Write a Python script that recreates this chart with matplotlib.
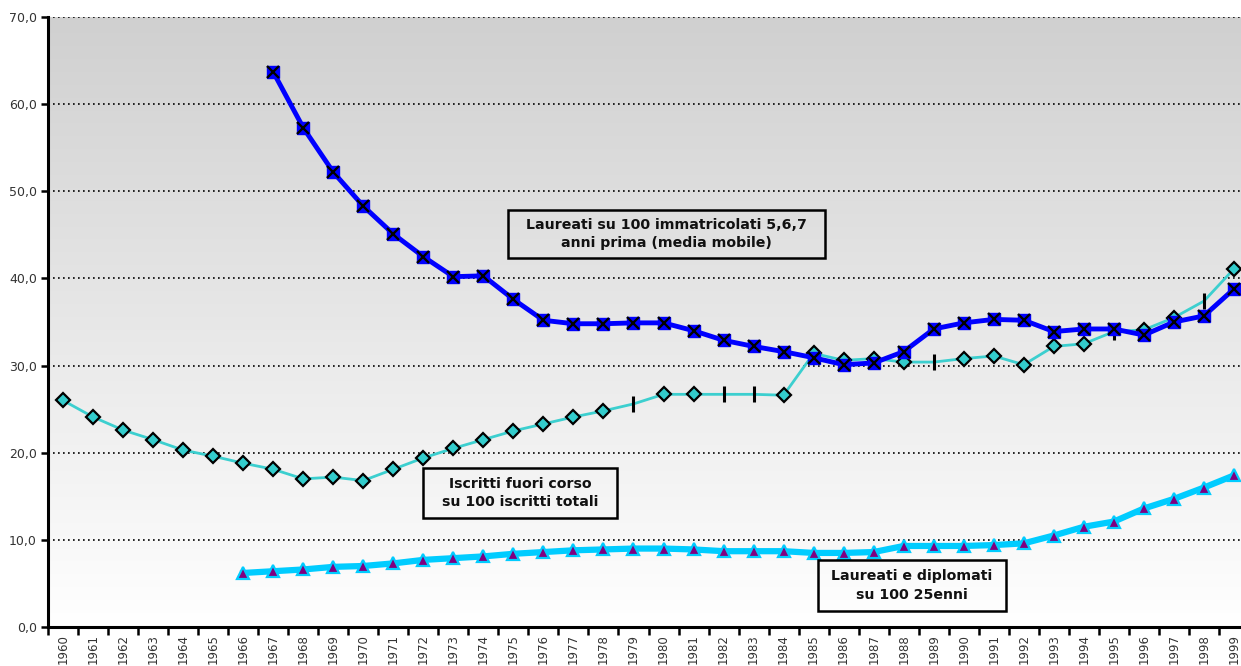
import numpy as np
import matplotlib
matplotlib.use("Agg")
import matplotlib.pyplot as plt
from matplotlib.patches import Rectangle
from matplotlib.ticker import FuncFormatter

# ---- data -------------------------------------------------------------
years = list(range(1960, 2000))

# Laureati su 100 immatricolati 5,6,7 anni prima (media mobile), 1967-1999
laureati_years = list(range(1967, 2000))
laureati_immatricolati = [
    63.7, 57.3, 52.2, 48.3, 45.1, 42.5, 40.2, 40.3, 37.6, 35.2,
    34.8, 34.8, 34.9, 34.9, 34.0, 32.9, 32.2, 31.6, 30.9, 30.1,
    30.3, 31.6, 34.2, 34.9, 35.3, 35.2, 33.9, 34.2, 34.2, 33.5,
    35.0, 35.7, 38.8,
]

# Iscritti fuori corso su 100 iscritti totali, 1960-1999
fuori_corso = [
    26.0, 24.1, 22.6, 21.5, 20.3, 19.6, 18.8, 18.1, 17.0, 17.2,
    16.8, 18.1, 19.4, 20.5, 21.5, 22.5, 23.3, 24.1, 24.8, 25.6,
    26.7, 26.7, 26.7, 26.7, 26.6, 31.4, 30.6, 30.8, 30.4, 30.4,
    30.8, 31.1, 30.1, 32.2, 32.5, 33.9, 34.1, 35.5, 37.4, 41.1,
]
# years whose value is shown with a bar marker instead of a diamond
fuori_corso_bar_years = [1979, 1982, 1983, 1989, 1995, 1998]

# Laureati e diplomati su 100 25enni, 1966-1999
diplomati_years = list(range(1966, 2000))
laureati_25enni = [
    6.2, 6.4, 6.6, 6.9, 7.0, 7.3, 7.7, 7.9, 8.1, 8.4,
    8.6, 8.8, 8.9, 9.0, 9.0, 8.9, 8.7, 8.7, 8.7, 8.5,
    8.5, 8.6, 9.3, 9.3, 9.3, 9.4, 9.6, 10.5, 11.5, 12.1,
    13.6, 14.7, 16.0, 17.4,
]

y_ticks = [0, 10, 20, 30, 40, 50, 60, 70]

label_immatricolati = "Laureati su 100 immatricolati 5,6,7\nanni prima (media mobile)"
label_fuori_corso = "Iscritti fuori corso\nsu 100 iscritti totali"
label_25enni = "Laureati e diplomati\nsu 100 25enni"

# ---- figure -------------------------------------------------------------
W, H = 1241, 666
fig = plt.figure(figsize=(W / 100, H / 100), dpi=100)
fig.patch.set_facecolor("white")

left_px, right_px, top_px, bottom_px = 48, 1249, 17, 627
ax = fig.add_axes([left_px / W, (H - bottom_px) / H,
                   (right_px - left_px) / W, (bottom_px - top_px) / H])

x_pos = {y: i for i, y in enumerate(years)}

# vertical grey-to-white gradient background
grad = np.linspace(0.815, 1.0, 256).reshape(-1, 1)
ax.imshow(np.dstack([grad, grad, grad]), extent=[0, 1, 0, 1],
          transform=ax.transAxes, aspect="auto", zorder=0,
          origin="upper", interpolation="bicubic")

ax.set_xlim(-0.5, len(years) - 0.5)
ax.set_ylim(0, 70)

# dotted horizontal grid
for v in y_ticks[1:]:
    ax.axhline(v, color="black", lw=1.2, ls=(0, (1, 2)), zorder=1)

# Iscritti fuori corso
xf = [x_pos[y] for y in years]
ax.plot(xf, fuori_corso, color="#3CCFCF", lw=2, zorder=3)
diamond_idx = [i for i, y in enumerate(years) if y not in fuori_corso_bar_years]
bar_idx = [i for i, y in enumerate(years) if y in fuori_corso_bar_years]
ax.plot([xf[i] for i in diamond_idx], [fuori_corso[i] for i in diamond_idx],
        ls="none", marker="D", ms=7, mfc="#33CCCC", mec="black", mew=1.6,
        zorder=4)
ax.plot([xf[i] for i in bar_idx], [fuori_corso[i] for i in bar_idx],
        ls="none", marker="|", ms=11, mec="black", mew=2.2, zorder=4)

# Laureati su 100 immatricolati
xl = [x_pos[y] for y in laureati_years]
ax.plot(xl, laureati_immatricolati, color="#0000FF", lw=3.5, zorder=5,
        marker="s", ms=8.5, mfc="#0000FF", mec="#0000FF")
ax.plot(xl, laureati_immatricolati, ls="none", marker="x", ms=8.5,
        mec="black", mew=1.7, zorder=6)

# Laureati e diplomati su 100 25enni
xd = [x_pos[y] for y in diplomati_years]
ax.plot(xd, laureati_25enni, color="#00CCFF", lw=4.5, zorder=5,
        marker="^", ms=9, mfc="#800080", mec="#00CCFF", mew=1.6)

# ---- axes styling -------------------------------------------------------
for s in ("top", "right"):
    ax.spines[s].set_visible(False)
for s in ("left", "bottom"):
    ax.spines[s].set_linewidth(2.2)
    ax.spines[s].set_color("black")
    ax.spines[s].set_zorder(7)

ax.set_yticks(y_ticks)
ax.yaxis.set_major_formatter(FuncFormatter(lambda v, p: f"{v:.1f}".replace(".", ",")))
ax.tick_params(axis="y", direction="out", length=5, width=1.8,
               labelsize=9, colors="black", labelcolor="#333333", pad=3)

ax.set_xticks(range(len(years)))
ax.set_xticklabels([str(y) for y in years], rotation=90, fontsize=8.5,
                   color="#333333")
ax.tick_params(axis="x", which="major", length=0, pad=5)
ax.set_xticks(np.arange(-0.5, len(years), 1.0), minor=True)
ax.tick_params(axis="x", which="minor", direction="out", length=6, width=1.8)


# ---- captions -------------------------------------------------------------
def caption(x0, y0, x1, y1, text):
    fx0, fx1 = x0 / W, x1 / W
    fy0, fy1 = 1 - y1 / H, 1 - y0 / H
    fig.add_artist(Rectangle((fx0, fy0), fx1 - fx0, fy1 - fy0,
                             transform=fig.transFigure, fill=False,
                             edgecolor="black", lw=1.8, zorder=10))
    fig.text((fx0 + fx1) / 2, (fy0 + fy1) / 2, text, ha="center",
             va="center", fontsize=10.2, fontweight="bold",
             color="#111111", linespacing=1.4, zorder=11)


caption(508, 210, 825, 258, label_immatricolati)
caption(423, 468, 617, 518, label_fuori_corso)
caption(818, 560, 1006, 611, label_25enni)

fig.savefig("out.png", dpi=100)
